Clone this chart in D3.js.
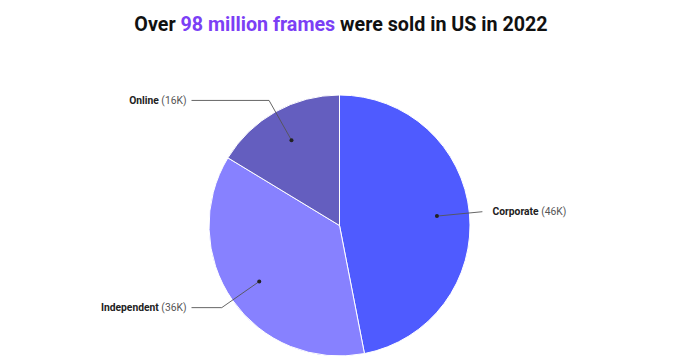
<!DOCTYPE html>
<meta charset="utf-8">
<style>
  body { margin: 0; background: #fff; }
  .title { font: bold 19.7px Roboto, sans-serif; fill: #111; text-anchor: middle; }
  .label { font: 10.3px Roboto, sans-serif; }
</style>
<svg width="692" height="362"></svg>
<script src="https://d3js.org/d3.v7.min.js"></script>
<script>
  var names = ["Corporate", "Independent", "Online"];
  var values = [46, 36, 16];
  var valueLabels = ["46K", "36K", "16K"];
  var colors = ["#4f5bff", "#8781ff", "#645ebf"];

  var svg = d3.select("svg"),
    cx = 339.5, cy = 225.5, radius = 130.5;

  // title with highlighted part
  var title = svg.append("text").attr("class", "title").attr("x", 341).attr("y", 31);
  title.append("tspan").text("Over ");
  title.append("tspan").style("fill", "#7b3ff5").text("98 million frames");
  title.append("tspan").text(" were sold in US in 2022");

  var data = names.map(function (n, i) { return { name: n, value: values[i], label: valueLabels[i], color: colors[i] }; });

  var pie = d3.pie().sort(null).value(function (d) { return d.value; });
  var arc = d3.arc().innerRadius(0).outerRadius(radius);
  var arcs = pie(data);

  var g = svg.append("g").attr("transform", "translate(" + cx + "," + cy + ")");

  g.selectAll("path.slice")
    .data(arcs)
    .enter().append("path")
    .attr("class", "slice")
    .attr("d", arc)
    .style("fill", function (d) { return d.data.color; })
    .style("stroke", "#fff")
    .style("stroke-width", 1);

  function pt(d, r) {
    var a = (d.startAngle + d.endAngle) / 2;
    return [Math.sin(a) * r, -Math.cos(a) * r];
  }

  arcs.forEach(function (d) {
    var p0 = pt(d, radius * 0.75),
      p1 = pt(d, radius * 1.1),
      side = p1[0] < 0 ? -1 : 1,
      endX = side < 0 ? -148 : p1[0];

    g.append("polyline")
      .attr("points", [p0, p1, [endX, p1[1]]].map(function (p) { return p.join(","); }).join(" "))
      .style("fill", "none")
      .style("stroke", "#555")
      .style("stroke-width", 0.9);

    g.append("circle")
      .attr("cx", p0[0]).attr("cy", p0[1]).attr("r", 2)
      .style("fill", "#222");

    var t = g.append("text")
      .attr("class", "label")
      .attr("x", side * 153)
      .attr("y", p1[1])
      .attr("dy", "0.35em")
      .attr("text-anchor", side < 0 ? "end" : "start");
    t.append("tspan").style("font-weight", "bold").style("fill", "#222").text(d.data.name);
    t.append("tspan").style("fill", "#555").text(" (" + d.data.label + ")");
  });
</script>
